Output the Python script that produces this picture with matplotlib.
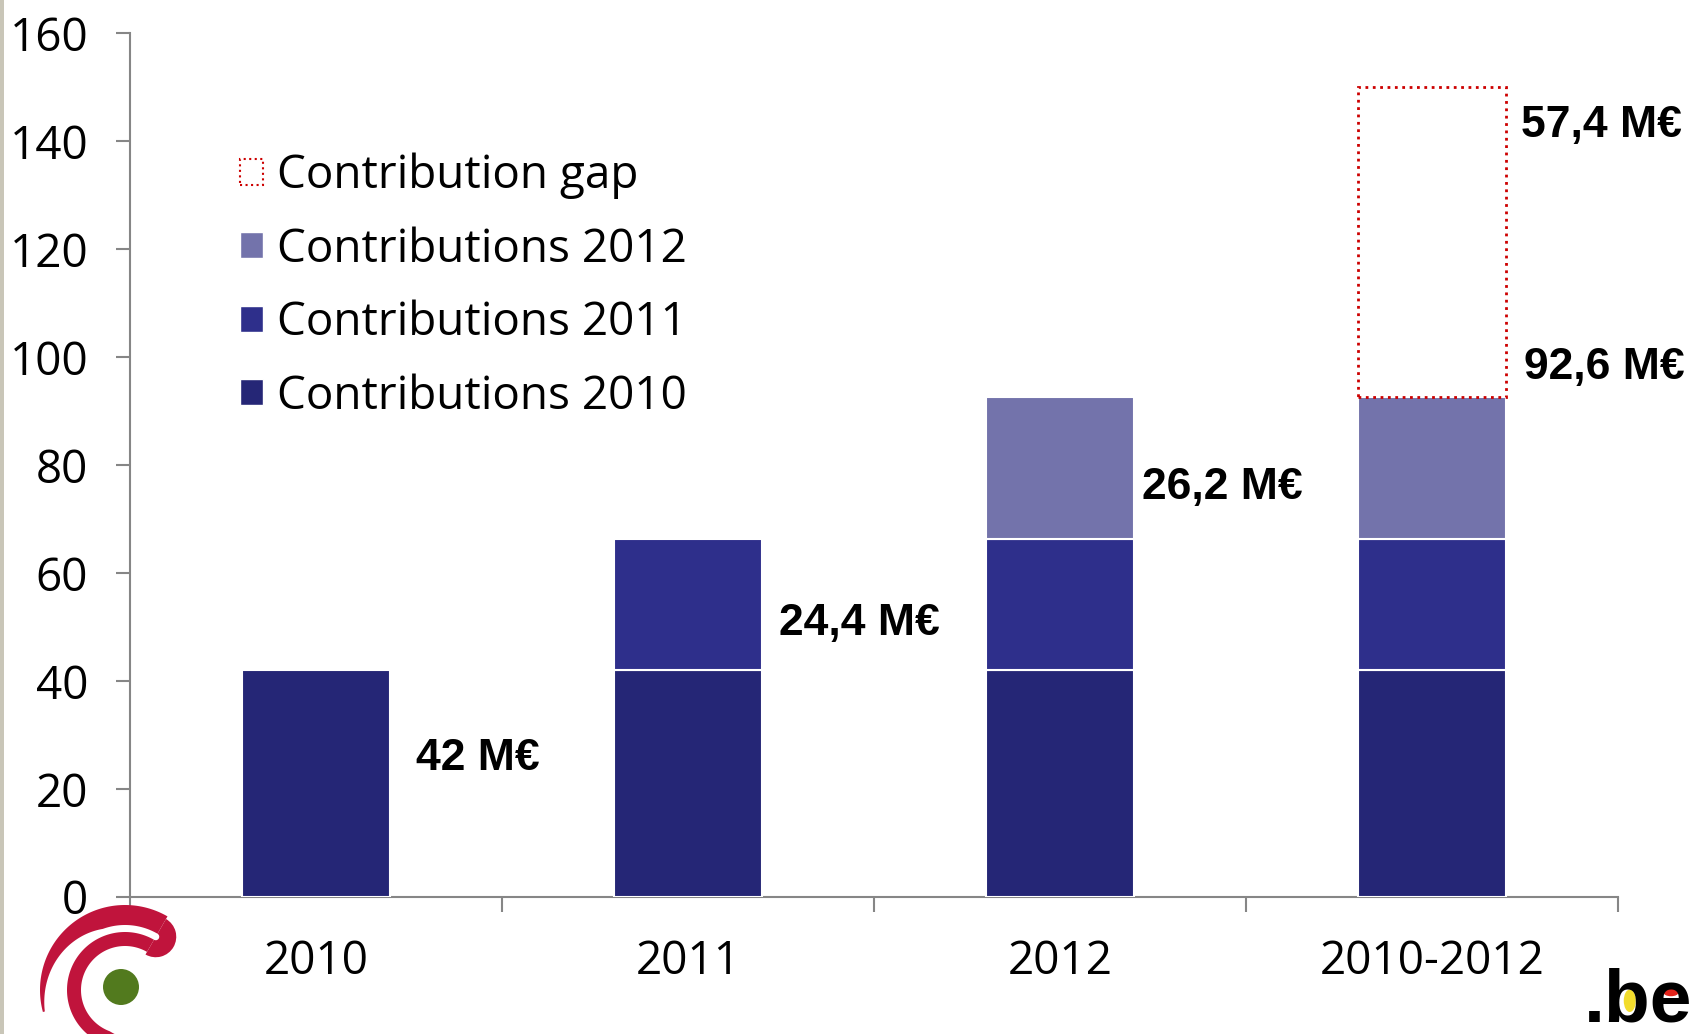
import numpy as np
import matplotlib
matplotlib.use("Agg")
import matplotlib.pyplot as plt
from matplotlib.patches import Patch, Rectangle, Polygon, Wedge, Circle, Ellipse

# data (millions of euro)
categories = ['2010', '2011', '2012', '2010-2012']
contrib_2010 = [42, 42, 42, 42]
contrib_2011 = [0, 24.4, 24.4, 24.4]
contrib_2012 = [0, 0, 26.2, 26.2]
contribution_gap = [0, 0, 0, 57.4]
series_names = ['Contributions 2010', 'Contributions 2011', 'Contributions 2012', 'Contribution gap']
label_texts = ['42 M€', '24,4 M€', '26,2 M€', '57,4 M€', '92,6 M€']
y_ticks = [0, 20, 40, 60, 80, 100, 120, 140, 160]

# layout of the value labels (x in category units, y in data units)
label_x = [0.27, 1.244, 2.221, 3.238, 3.247]
label_y = [25.6, 50.6, 75.8, 143, 98.2]

colors = ['#252676', '#2e2f8b', '#7373ab']
gap_color = '#cc0000'
axis_color = '#868686'
tick_font = 'Open Sans'

W, H = 1695, 1034
fig = plt.figure(figsize=(W / 100, H / 100), dpi=100)
ax = fig.add_axes([130 / W, 1 - 897 / H, (1618 - 130) / W, (897 - 33.5) / H])

x = np.arange(len(categories))
width = 0.4
bottom = np.zeros(len(categories))
for vals, col in zip([contrib_2010, contrib_2011, contrib_2012], colors):
    vals = np.array(vals, dtype=float)
    keep = vals > 0
    ax.bar(x[keep], vals[keep], width, bottom=bottom[keep], color=col,
           edgecolor='white', linewidth=1.5, zorder=3)
    bottom += vals

gap = np.array(contribution_gap, dtype=float)
keep = gap > 0
ax.bar(x[keep], gap[keep], width, bottom=bottom[keep], facecolor='white',
       edgecolor=gap_color, linestyle=':', linewidth=2, zorder=3)

for tx, ty, s in zip(label_x, label_y, label_texts):
    ax.text(tx, ty, s, ha='left', va='center', fontsize=32, fontweight='bold',
            family='Liberation Sans', zorder=5)

ax.set_xlim(-0.5, len(categories) - 0.5)
ax.set_ylim(0, 160)
ax.set_yticks(y_ticks)
ax.set_xticks(x)
ax.set_xticklabels(categories)
ax.set_xticks(np.arange(len(categories) + 1) - 0.5, minor=True)

for side in ['top', 'right']:
    ax.spines[side].set_visible(False)
for side in ['left', 'bottom']:
    ax.spines[side].set_color(axis_color)
    ax.spines[side].set_linewidth(1.5)

ax.tick_params(axis='y', direction='out', length=10, width=1.5, color=axis_color,
               pad=20, labelsize=33)
ax.tick_params(axis='x', which='major', length=0, pad=30, labelsize=33)
ax.tick_params(axis='x', which='minor', direction='out', length=11, width=1.5,
               color=axis_color)
for lab in ax.get_xticklabels() + ax.get_yticklabels():
    lab.set_family(tick_font)

handles = [
    Patch(facecolor='white', edgecolor=gap_color, linestyle=':', linewidth=1.5),
    Patch(facecolor=colors[2], edgecolor='white'),
    Patch(facecolor=colors[1], edgecolor='white'),
    Patch(facecolor=colors[0], edgecolor='white'),
]
leg = ax.legend(handles, series_names[::-1], loc='upper left',
                bbox_to_anchor=(0.074, 0.862), frameon=False, fontsize=33,
                handlelength=0.5, handleheight=0.5, handletextpad=0.3,
                labelspacing=0.6, borderpad=0, borderaxespad=0)
for t in leg.get_texts():
    t.set_family(tick_font)

# overlay in pixel coordinates for the decorations
deco = fig.add_axes([0, 0, 1, 1])
deco.set_xlim(0, W)
deco.set_ylim(0, H)
deco.axis('off')
deco.patch.set_alpha(0)

deco.add_patch(Rectangle((0, 0), 4, H, color='#c9c6b8', lw=0))

# logo bottom left
cx, cy = 125, 1034 - 990
red = '#c0143c'


def band(t0, t1, r_out, thick):
    th = np.linspace(t0, t1, 120)
    ro = np.array([r_out(t) for t in th])
    ri = ro - np.array([thick(t) for t in th])
    rad = np.radians(th)
    xo, yo = cx + ro * np.cos(rad), cy + ro * np.sin(rad)
    xi, yi = cx + ri * np.cos(rad), cy + ri * np.sin(rad)
    pts = np.column_stack([np.concatenate([xo, xi[::-1]]),
                           np.concatenate([yo, yi[::-1]])])
    deco.add_patch(Polygon(pts, closed=True, color=red, lw=0))


hook_angle = 60
band(hook_angle, 195, lambda t: 85, lambda t: 20 if t < 110 else 20 - 18 * (t - 110) / 85)
band(hook_angle, 300, lambda t: 58, lambda t: 14 if t < 250 else 14 - 9 * (t - 250) / 50)
hx = cx + 61.5 * np.cos(np.radians(hook_angle))
hy = cy + 61.5 * np.sin(np.radians(hook_angle))
deco.add_patch(Wedge((hx, hy), 20.5, hook_angle - 180, hook_angle, width=17,
                     color=red, lw=0))
deco.add_patch(Circle((121, 1034 - 987), 18, color='#527a1e', lw=0))

# .be logo bottom right
x0, base = 1584, 1034 - 1021
em = 54 * 100 / 72
deco.add_patch(Ellipse((x0 + 0.61 * em, base + 0.27 * em), 0.16 * em, 0.3 * em,
                       color='#f2dc2c', lw=0))
deco.add_patch(Ellipse((x0 + 1.16 * em, base + 0.38 * em), 0.2 * em, 0.1 * em,
                       color='#e3231b', lw=0))
deco.text(x0, base, '.be', ha='left', va='baseline', fontsize=54,
          fontweight='bold', family='Liberation Sans')

fig.savefig('out.png', dpi=100, facecolor='white')
